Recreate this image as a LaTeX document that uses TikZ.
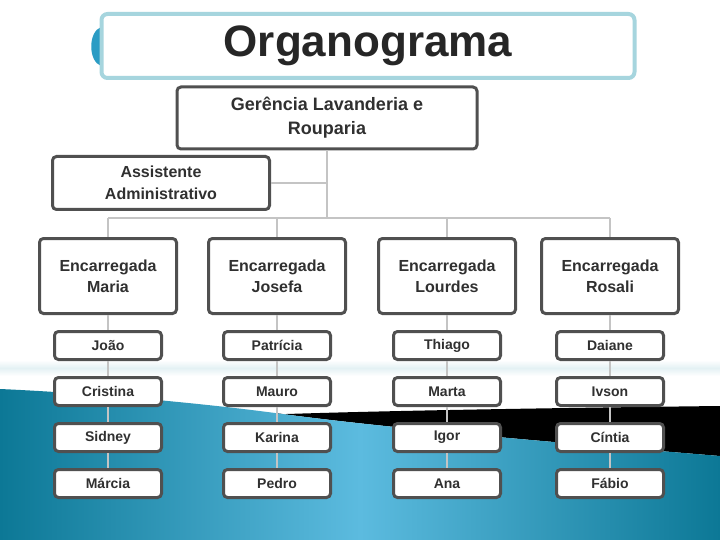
\documentclass[tikz,border=0pt]{standalone}
\usepackage{fontspec}
\setmainfont{Liberation Sans}
\usetikzlibrary{positioning}
\definecolor{boxline}{HTML}{505050}
\definecolor{boxtext}{HTML}{303030}
\definecolor{titletext}{HTML}{262626}
\definecolor{linkgray}{HTML}{C4C4C4}
\definecolor{titleline}{HTML}{A6D5DE}
\definecolor{tabblue}{HTML}{2B9CC4}
\definecolor{seadark}{HTML}{0C7896}
\definecolor{sealight}{HTML}{5CBBDF}
\definecolor{seaband}{HTML}{E4F1F4}
\tikzset{%
	titlebox/.style = {draw=titleline, line width=4pt, rounded corners=6pt, fill=white, minimum width=533pt, minimum height=64pt, text=titletext, font=\bfseries\fontsize{44}{48}\selectfont},
	headbox/.style  = {draw=boxline, line width=3pt, rounded corners=4pt, fill=white, align=center, text=boxtext, inner sep=0pt},
	gerbox/.style   = {headbox, minimum width=300pt, minimum height=62pt, font=\bfseries\fontsize{18}{24}\selectfont},
	asstbox/.style  = {headbox, minimum width=217pt, minimum height=53pt, font=\bfseries\fontsize{16}{22}\selectfont},
	encbox/.style   = {headbox, minimum width=137pt, minimum height=75pt, font=\bfseries\fontsize{16}{21}\selectfont},
	membox/.style   = {headbox, minimum width=107pt, minimum height=28pt, font=\bfseries\fontsize{14}{16}\selectfont},
	link/.style     = {draw=linkgray, line width=1.5pt},
}
\begin{document}
\begin{tikzpicture}[x=1pt,y=-1pt,node distance=15pt]
	\useasboundingbox (0,0) rectangle (720,540);
	
	% background
	\fill[white] (0,0) rectangle (720,540);
	\shade[top color=white,bottom color=white,middle color=seaband] (0,360) rectangle (720,376);
	\fill[black] (232,416) .. controls (350,411) and (550,408) .. (720,406) -- (720,456) .. controls (600,446) and (400,430) .. (275,413) -- cycle;
	\shade[left color=seadark,right color=seadark,middle color=sealight] (0,389) .. controls (90,393) and (200,403) .. (275,413) .. controls (400,430) and (600,446) .. (720,456) -- (720,540) -- (0,540) -- cycle;
	
	% title
	\fill[tabblue] (101,27) .. controls (88,32) and (88,61) .. (101,66) -- cycle;
	\node[titlebox] (title) at (368,46) {Organograma};
	
	\node[gerbox] (ger) at (327,118) {Gerência Lavanderia e\\Rouparia};
	\node[asstbox] (asst) at (161,183) {Assistente\\Administrativo};
	
	\node[encbox] (enc1) at (108,276) {Encarregada\\Maria};
	\node[encbox] (enc2) at (277,276) {Encarregada\\Josefa};
	\node[encbox] (enc3) at (447,276) {Encarregada\\Lourdes};
	\node[encbox] (enc4) at (610,276) {Encarregada\\Rosali};
	
	\node[membox,below=of enc1] (m11) {João};
	\node[membox,below=of m11] (m12) {Cristina};
	\node[membox,below=of m12] (m13) {Sidney};
	\node[membox,below=of m13] (m14) {Márcia};
	
	\node[membox,below=of enc2] (m21) {Patrícia};
	\node[membox,below=of m21] (m22) {Mauro};
	\node[membox,below=of m22] (m23) {Karina};
	\node[membox,below=of m23] (m24) {Pedro};
	
	\node[membox,below=of enc3] (m31) {Thiago};
	\node[membox,below=of m31] (m32) {Marta};
	\node[membox,below=of m32] (m33) {Igor};
	\node[membox,below=of m33] (m34) {Ana};
	
	\node[membox,below=of enc4] (m41) {Daiane};
	\node[membox,below=of m41] (m42) {Ivson};
	\node[membox,below=of m42] (m43) {Cíntia};
	\node[membox,below=of m43] (m44) {Fábio};
	
	% connectors
	\coordinate (bus) at (ger.south |- 0,218);
	\draw[link] (ger.south) -- (bus);
	\draw[link] (asst.east) -- (asst.east -| ger.south);
	\draw[link] (enc1.north |- bus) -- (enc4.north |- bus);
	\draw[link] (enc1.north |- bus) -- (enc1.north);
	\draw[link] (enc2.north |- bus) -- (enc2.north);
	\draw[link] (enc3.north |- bus) -- (enc3.north);
	\draw[link] (enc4.north |- bus) -- (enc4.north);
	
	\draw[link] (enc1) -- (m11) (m11) -- (m12) (m12) -- (m13) (m13) -- (m14);
	\draw[link] (enc2) -- (m21) (m21) -- (m22) (m22) -- (m23) (m23) -- (m24);
	\draw[link] (enc3) -- (m31) (m31) -- (m32) (m32) -- (m33) (m33) -- (m34);
	\draw[link] (enc4) -- (m41) (m41) -- (m42) (m42) -- (m43) (m43) -- (m44);
\end{tikzpicture}
\end{document}
